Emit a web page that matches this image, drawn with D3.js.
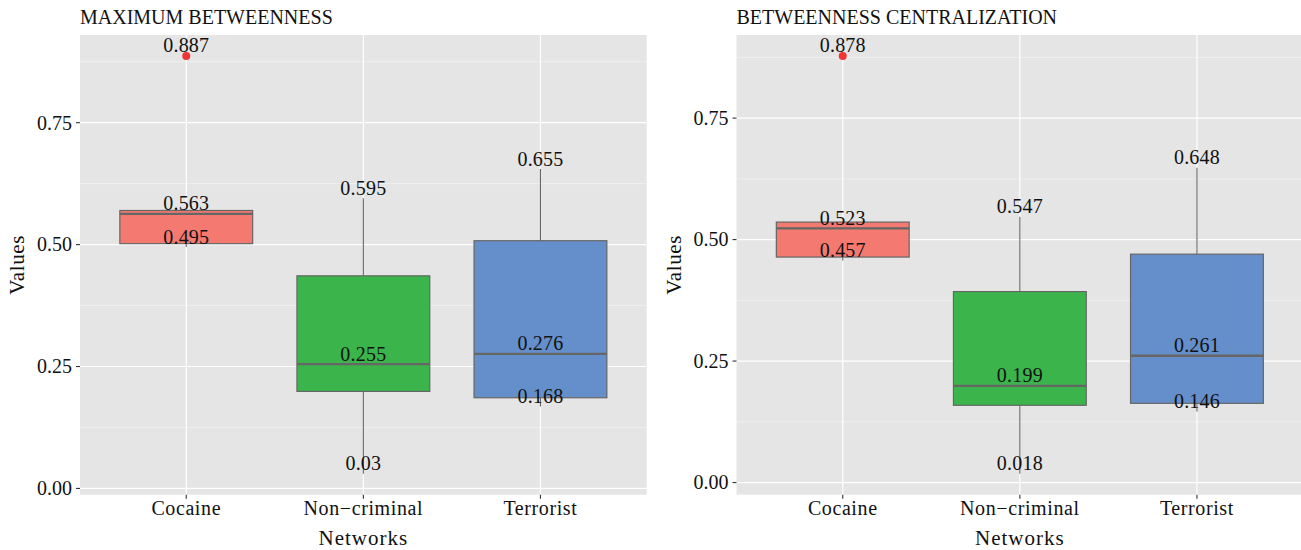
<!DOCTYPE html>
<html>
<head>
<meta charset="utf-8">
<script src="https://cdn.jsdelivr.net/npm/d3@7"></script>
<style>
  html, body { margin: 0; padding: 0; background: #ffffff; }
  svg { display: block; }
  text { font-family: "Liberation Serif", "DejaVu Serif", serif; fill: #111; }
</style>
</head>
<body>
<svg id="chart" width="1301" height="550"></svg>
<script>
// Network categories (ggplot renders the hyphen as a minus sign)
const categories = ["Cocaine", "Non\u2212criminal", "Terrorist"];
const fills = ["#F47A71", "#3BB54B", "#648FCB"];

// Box statistics: lower whisker, Q1, median, Q3, upper whisker
const maxBetweennessLow    = [0.495, 0.030, 0.168];
const maxBetweennessQ1     = [0.502, 0.199, 0.186];
const maxBetweennessMedian = [0.563, 0.255, 0.276];
const maxBetweennessQ3     = [0.570, 0.436, 0.508];
const maxBetweennessHigh   = [0.570, 0.595, 0.655];
const maxBetweennessOutliers = [[0.887], [], []];

const centralizationLow    = [0.457, 0.018, 0.146];
const centralizationQ1     = [0.464, 0.159, 0.163];
const centralizationMedian = [0.523, 0.199, 0.261];
const centralizationQ3     = [0.536, 0.393, 0.470];
const centralizationHigh   = [0.536, 0.547, 0.648];
const centralizationOutliers = [[0.878], [], []];

const yTicks = [0, 0.25, 0.5, 0.75];
const yMinorTicks = [0.125, 0.375, 0.625, 0.875];

const svg = d3.select("#chart");

function drawPanel(opts) {
  const { left, right, top, bottom, title, low, q1, med, q3, high, outliers } = opts;
  const g = svg.append("g");

  // y range from data extremes with 5% expansion (ggplot default)
  const all = low.concat(high, outliers.flat());
  const lo = d3.min(all), hi = d3.max(all);
  const pad = (hi - lo) * 0.05;
  const y = d3.scaleLinear().domain([lo - pad, hi + pad]).range([bottom, top]);
  const x = d3.scalePoint().domain(categories).range([left, right]).padding(0.6);
  const boxW = x.step() * 0.75;

  // panel background
  g.append("rect").attr("x", left).attr("y", top)
    .attr("width", right - left).attr("height", bottom - top).attr("fill", "#E5E5E5");

  // grid
  g.selectAll(".minor").data(yMinorTicks).join("line")
    .attr("x1", left).attr("x2", right)
    .attr("y1", d => y(d)).attr("y2", d => y(d))
    .attr("stroke", "#F7F7F7").attr("stroke-width", 0.6);
  g.selectAll(".major").data(yTicks).join("line")
    .attr("x1", left).attr("x2", right)
    .attr("y1", d => y(d)).attr("y2", d => y(d))
    .attr("stroke", "#FFFFFF").attr("stroke-width", 1.2);
  g.selectAll(".vmajor").data(categories).join("line")
    .attr("x1", d => x(d)).attr("x2", d => x(d))
    .attr("y1", top).attr("y2", bottom)
    .attr("stroke", "#FFFFFF").attr("stroke-width", 1.2);

  const idx = d3.range(categories.length);
  const cx = i => x(categories[i]);

  // whiskers
  idx.forEach(i => {
    g.append("line").attr("x1", cx(i)).attr("x2", cx(i))
      .attr("y1", y(high[i])).attr("y2", y(q3[i]))
      .attr("stroke", "#666").attr("stroke-width", 1.1);
    g.append("line").attr("x1", cx(i)).attr("x2", cx(i))
      .attr("y1", y(q1[i])).attr("y2", y(low[i]))
      .attr("stroke", "#666").attr("stroke-width", 1.1);
  });

  // boxes
  g.selectAll(".box").data(idx).join("rect")
    .attr("x", i => cx(i) - boxW / 2).attr("width", boxW)
    .attr("y", i => y(q3[i])).attr("height", i => y(q1[i]) - y(q3[i]))
    .attr("fill", i => fills[i]).attr("stroke", "#666").attr("stroke-width", 1.2);
  g.selectAll(".median").data(idx).join("line")
    .attr("x1", i => cx(i) - boxW / 2).attr("x2", i => cx(i) + boxW / 2)
    .attr("y1", i => y(med[i])).attr("y2", i => y(med[i]))
    .attr("stroke", "#666").attr("stroke-width", 2.4);

  // outliers
  idx.forEach(i => {
    outliers[i].forEach(v => {
      g.append("circle").attr("cx", cx(i)).attr("cy", y(v)).attr("r", 4)
        .attr("fill", "#F03333");
    });
  });

  // value labels: minimum, median, maximum
  idx.forEach(i => {
    const mx = d3.max([high[i]].concat(outliers[i]));
    [low[i], med[i], mx].forEach(v => {
      g.append("text").attr("x", cx(i)).attr("y", y(v) - 3.5)
        .attr("text-anchor", "middle").attr("font-size", 20)
        .attr("letter-spacing", 0.2)
        .text(String(+v.toFixed(3)));
    });
  });

  // y axis ticks and labels
  g.selectAll(".ytick").data(yTicks).join("line")
    .attr("x1", left - 4).attr("x2", left)
    .attr("y1", d => y(d)).attr("y2", d => y(d))
    .attr("stroke", "#333").attr("stroke-width", 1.1);
  g.selectAll(".ylab").data(yTicks).join("text")
    .attr("x", left - 8).attr("y", d => y(d)).attr("dy", "0.34em")
    .attr("text-anchor", "end").attr("font-size", 20)
    .text(d => d.toFixed(2));

  // x axis ticks and labels
  g.selectAll(".xtick").data(categories).join("line")
    .attr("x1", d => x(d)).attr("x2", d => x(d))
    .attr("y1", bottom).attr("y2", bottom + 4)
    .attr("stroke", "#333").attr("stroke-width", 1.1);
  g.selectAll(".xlab").data(categories).join("text")
    .attr("x", d => x(d)).attr("y", bottom + 20)
    .attr("text-anchor", "middle").attr("font-size", 20)
    .attr("letter-spacing", 0.6)
    .text(d => d);

  // axis titles and panel title
  g.append("text").attr("x", (left + right) / 2).attr("y", bottom + 50)
    .attr("text-anchor", "middle").attr("font-size", 21)
    .attr("letter-spacing", 1).text("Networks");
  g.append("text")
    .attr("transform", `translate(${left - 56},${(top + bottom) / 2}) rotate(-90)`)
    .attr("text-anchor", "middle").attr("font-size", 21)
    .attr("letter-spacing", 0.6).text("Values");
  g.append("text").attr("x", left).attr("y", top - 11)
    .attr("font-size", 20).text(title);
}

drawPanel({
  left: 80, right: 646.7, top: 35, bottom: 494.7,
  title: "MAXIMUM BETWEENNESS",
  low: maxBetweennessLow, q1: maxBetweennessQ1, med: maxBetweennessMedian,
  q3: maxBetweennessQ3, high: maxBetweennessHigh, outliers: maxBetweennessOutliers
});

drawPanel({
  left: 736.5, right: 1303.2, top: 35, bottom: 494.7,
  title: "BETWEENNESS CENTRALIZATION",
  low: centralizationLow, q1: centralizationQ1, med: centralizationMedian,
  q3: centralizationQ3, high: centralizationHigh, outliers: centralizationOutliers
});
</script>
</body>
</html>
